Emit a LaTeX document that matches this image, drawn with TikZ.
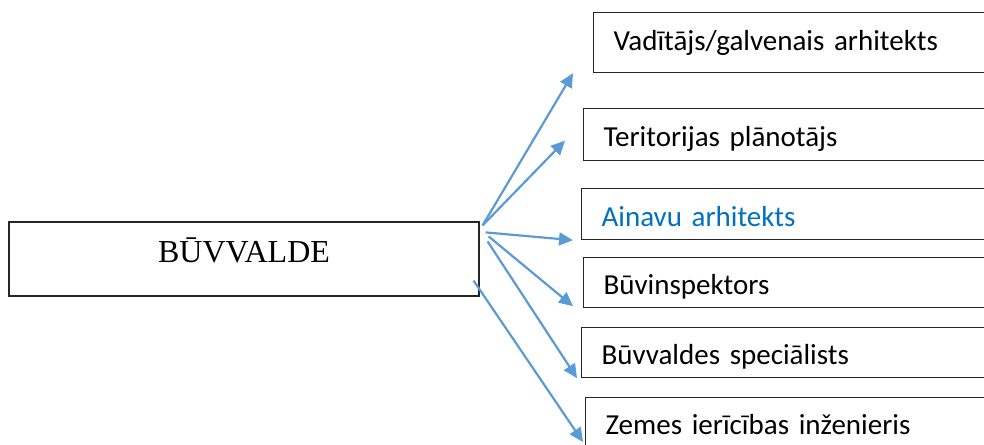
\documentclass[tikz,border=0pt]{standalone}
\usepackage{fontspec}
\setmainfont{Liberation Serif}
\newfontfamily\calibri{Carlito}
\usetikzlibrary{arrows.meta}
\definecolor{arrowblue}{HTML}{5B9BD5}
\definecolor{textblue}{HTML}{0070C0}
\begin{document}
\begin{tikzpicture}[x=1pt, y=-1pt,
    mainbox/.style={draw=black!85, line width=1.2pt, minimum width=470pt, minimum height=74pt,
      font=\fontsize{32}{36}\selectfont, text height=21pt, text depth=15pt},
    rolebox/.style={draw=black!85, line width=1.2pt, anchor=north west, text width=400pt, align=left,
      inner xsep=20pt, inner ysep=0pt, text height=24pt, text depth=0pt,
      font=\calibri\fontsize{29}{33}\selectfont},
    link/.style={draw=arrowblue, line width=2.2pt, -{Triangle[length=14pt,width=13pt]}}]
  \useasboundingbox (0,0) rectangle (984,444);
  \clip (0,0) rectangle (984,444);

  \node[mainbox] (buv) at (244,259) {BŪVVALDE};

  \node[rolebox, minimum height=60pt, text height=16pt] (vad) at (593,12) {Vadītājs/galvenais arhitekts};
  \node[rolebox, minimum height=52pt] (ter) at (583,108) {Teritorijas plānotājs};
  \node[rolebox, minimum height=51pt, text=textblue] (ain) at (581,188) {Ainavu arhitekts};
  \node[rolebox, minimum height=50pt] (insp) at (583,257) {Būvinspektors};
  \node[rolebox, minimum height=50pt] (spec) at (581,327) {Būvvaldes speciālists};
  \node[rolebox, minimum height=50pt] (zem) at (585,397) {Zemes ierīcības inženieris};

  \draw[link] ([xshift=3pt,yshift=-4pt]buv.north east) -- ([xshift=-20pt]vad.south west);
  \draw[link] ([xshift=3pt,yshift=-4pt]buv.north east) -- ([xshift=-18pt,yshift=-6pt]ter.west);
  \draw[link] ([xshift=6pt,yshift=-11pt]buv.north east) -- ([xshift=-8pt]ain.south west);
  \draw[link] ([xshift=9pt,yshift=-15pt]buv.north east) -- ([xshift=-10pt,yshift=2pt]insp.south west);
  \draw[link] ([xshift=8pt,yshift=-20pt]buv.north east) -- ([xshift=-4pt]spec.south west);
  \draw[link] ([xshift=-6pt,yshift=16pt]buv.south east) -- ([xshift=-2pt,yshift=-45pt]zem.north west);
\end{tikzpicture}
\end{document}
